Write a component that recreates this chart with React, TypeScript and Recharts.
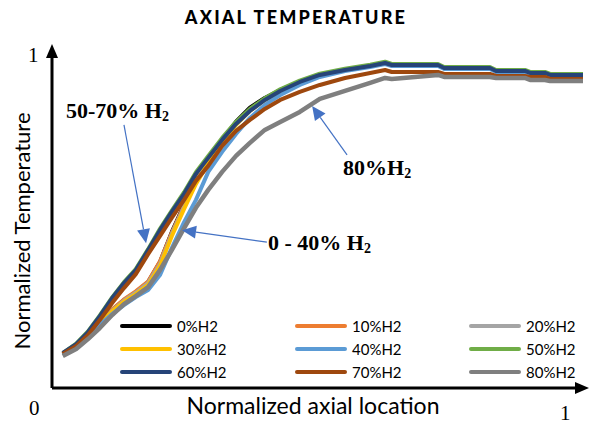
import React from "react";
import { LineChart, Line, XAxis, YAxis, ReferenceLine } from "recharts";

// normalized axial location of each sample
const axialPos = [
  0.021, 0.047, 0.07, 0.093, 0.117, 0.14, 0.163, 0.187, 0.21, 0.233, 0.257,
  0.28, 0.304, 0.331, 0.358, 0.385, 0.414, 0.444, 0.482, 0.521, 0.57, 0.619,
  0.648, 0.661, 0.751, 0.763, 0.852, 0.864, 0.92, 0.93, 0.959, 0.969, 1.033,
];

const h2_0 = [
  0.102, 0.126, 0.159, 0.198, 0.234, 0.264, 0.288, 0.318, 0.378, 0.468, 0.55,
  0.625, 0.685, 0.745, 0.8, 0.842, 0.871, 0.895, 0.919, 0.94, 0.955, 0.967,
  0.976, 0.97, 0.97, 0.961, 0.961, 0.952, 0.952, 0.946, 0.946, 0.94, 0.94,
];
const h2_10 = [
  0.103, 0.127, 0.16, 0.199, 0.236, 0.266, 0.29, 0.32, 0.38, 0.466, 0.548,
  0.622, 0.683, 0.743, 0.794, 0.836, 0.866, 0.893, 0.918, 0.939, 0.954, 0.966,
  0.975, 0.969, 0.969, 0.96, 0.96, 0.951, 0.951, 0.945, 0.945, 0.939, 0.939,
];
const h2_20 = [
  0.102, 0.126, 0.158, 0.197, 0.232, 0.262, 0.286, 0.315, 0.372, 0.462, 0.544,
  0.619, 0.68, 0.741, 0.792, 0.834, 0.866, 0.893, 0.918, 0.939, 0.954, 0.966,
  0.975, 0.969, 0.969, 0.96, 0.96, 0.951, 0.951, 0.945, 0.945, 0.939, 0.939,
];
const h2_30 = [
  0.102, 0.125, 0.157, 0.195, 0.23, 0.259, 0.282, 0.31, 0.366, 0.456, 0.538,
  0.613, 0.676, 0.739, 0.79, 0.832, 0.865, 0.892, 0.919, 0.94, 0.955, 0.967,
  0.976, 0.97, 0.97, 0.961, 0.961, 0.952, 0.952, 0.946, 0.946, 0.94, 0.94,
];
const h2_40 = [
  0.099, 0.123, 0.153, 0.189, 0.222, 0.249, 0.273, 0.294, 0.339, 0.42, 0.498,
  0.565, 0.649, 0.709, 0.763, 0.811, 0.85, 0.88, 0.91, 0.934, 0.952, 0.964,
  0.973, 0.967, 0.967, 0.958, 0.958, 0.949, 0.949, 0.943, 0.943, 0.937, 0.937,
];
const h2_50 = [
  0.105, 0.133, 0.17, 0.218, 0.272, 0.318, 0.357, 0.417, 0.478, 0.533, 0.588,
  0.648, 0.697, 0.751, 0.799, 0.838, 0.87, 0.897, 0.923, 0.944, 0.959, 0.971,
  0.98, 0.973, 0.973, 0.964, 0.964, 0.955, 0.955, 0.949, 0.949, 0.943, 0.943,
];
const h2_60 = [
  0.105, 0.132, 0.168, 0.216, 0.27, 0.315, 0.354, 0.414, 0.474, 0.529, 0.583,
  0.643, 0.691, 0.745, 0.793, 0.832, 0.865, 0.892, 0.919, 0.94, 0.955, 0.967,
  0.976, 0.97, 0.97, 0.961, 0.961, 0.952, 0.952, 0.946, 0.946, 0.94, 0.94,
];
const h2_70 = [
  0.102, 0.126, 0.159, 0.204, 0.255, 0.3, 0.342, 0.402, 0.456, 0.511, 0.565,
  0.622, 0.667, 0.727, 0.772, 0.805, 0.838, 0.865, 0.889, 0.91, 0.931, 0.946,
  0.955, 0.949, 0.949, 0.943, 0.943, 0.937, 0.937, 0.934, 0.934, 0.928, 0.928,
];
const h2_80 = [
  0.096, 0.117, 0.147, 0.18, 0.219, 0.252, 0.276, 0.303, 0.354, 0.414, 0.48,
  0.541, 0.595, 0.649, 0.697, 0.736, 0.775, 0.799, 0.829, 0.868, 0.892, 0.916,
  0.931, 0.928, 0.94, 0.934, 0.934, 0.931, 0.931, 0.925, 0.925, 0.922, 0.922,
];

const seriesNames = ["0%H2", "10%H2", "20%H2", "30%H2", "40%H2", "50%H2", "60%H2", "70%H2", "80%H2"];
const seriesValues = [h2_0, h2_10, h2_20, h2_30, h2_40, h2_50, h2_60, h2_70, h2_80];
const seriesColors = [
  "#000000", "#ED7D31", "#A5A5A5", "#FFC000", "#5B9BD5", "#70AD47", "#264478", "#9E480E", "#7F7F7F",
];

const data = axialPos.map((x, i) => {
  const row: Record<string, number> = { x };
  seriesNames.forEach((n, s) => {
    row[n] = seriesValues[s][i];
  });
  return row;
});

const X_MAX = 1.0447;
const Y_MAX = 1.033;

const makeArrow = (color: string, width: number, headLen: number, headW: number) => (props: any) => {
  const { x1, y1, x2, y2 } = props;
  const ang = Math.atan2(y2 - y1, x2 - x1);
  const bx = x2 - headLen * Math.cos(ang);
  const by = y2 - headLen * Math.sin(ang);
  const px = (headW / 2) * Math.sin(ang);
  const py = (headW / 2) * Math.cos(ang);
  return (
    <g>
      <line x1={x1} y1={y1} x2={bx} y2={by} stroke={color} strokeWidth={width} />
      <polygon points={`${x2},${y2} ${bx + px},${by - py} ${bx - px},${by + py}`} fill={color} />
    </g>
  );
};

const axisArrow = makeArrow("#000", 3, 14, 12);
const noteArrow = makeArrow("#4472C4", 1.2, 14, 13);

const serif = "'Liberation Serif', 'Times New Roman', serif";
const sans = "Lato, 'Open Sans', sans-serif";

const abs = (left: number, top: number, extra: React.CSSProperties = {}): React.CSSProperties => ({
  position: "absolute",
  left,
  top,
  whiteSpace: "nowrap",
  lineHeight: 1,
  ...extra,
});

const noteStyle = { fontFamily: serif, fontWeight: 700, fontSize: 22 };
const subStyle: React.CSSProperties = { fontSize: 14, verticalAlign: "-3px" };

export default function App() {
  return (
    <div style={{ position: "absolute", left: 0, top: 0, width: 592, height: 426, background: "#fff" }}>
      <LineChart width={592} height={426} data={data} margin={{ top: 44, right: 3, bottom: 38, left: 52 }}>
        <XAxis dataKey="x" type="number" domain={[0, X_MAX]} hide />
        <YAxis type="number" domain={[0, Y_MAX]} hide />
        {seriesNames.map((n, s) => (
          <Line
            key={n}
            dataKey={n}
            stroke={seriesColors[s]}
            strokeWidth={s === 8 ? 4.5 : 4}
            dot={false}
            type="linear"
            strokeLinejoin="round"
            isAnimationActive={false}
          />
        ))}
        <ReferenceLine segment={[{ x: 0, y: 0 }, { x: 0, y: Y_MAX }]} ifOverflow="visible" shape={axisArrow} />
        <ReferenceLine segment={[{ x: 0, y: 0 }, { x: X_MAX, y: 0 }]} ifOverflow="visible" shape={axisArrow} />
        <ReferenceLine segment={[{ x: 0.14, y: 0.79 }, { x: 0.183, y: 0.435 }]} ifOverflow="visible" shape={noteArrow} />
        <ReferenceLine segment={[{ x: 0.418, y: 0.438 }, { x: 0.253, y: 0.474 }]} ifOverflow="visible" shape={noteArrow} />
        <ReferenceLine segment={[{ x: 0.574, y: 0.7 }, { x: 0.506, y: 0.847 }]} ifOverflow="visible" shape={noteArrow} />
      </LineChart>

      <div style={abs(0, 8, { width: 592, textAlign: "center", fontFamily: sans, fontWeight: 900, fontSize: 18, letterSpacing: 2.2 })}>
        AXIAL TEMPERATURE
      </div>
      <div
        style={abs(22, 231, {
          fontFamily: sans,
          fontSize: 22,
          transform: "translate(-50%, -50%) rotate(-90deg)",
        })}
      >
        Normalized Temperature
      </div>
      <div style={abs(313, 394, { fontFamily: sans, fontSize: 23, transform: "translateX(-50%)" })}>
        Normalized axial location
      </div>
      <div style={abs(28, 45, { fontFamily: serif, fontSize: 21 })}>1</div>
      <div style={abs(29, 398, { fontFamily: serif, fontSize: 21 })}>0</div>
      <div style={abs(560, 403, { fontFamily: serif, fontSize: 21 })}>1</div>

      <div style={abs(66, 100, noteStyle)}>
        50-70% H<span style={subStyle}>2</span>
      </div>
      <div style={abs(343, 157, noteStyle)}>
        80%H<span style={subStyle}>2</span>
      </div>
      <div style={abs(268, 232, noteStyle)}>
        0 - 40% H<span style={subStyle}>2</span>
      </div>

      {seriesNames.map((n, s) => {
        const col = s % 3;
        const row = Math.floor(s / 3);
        const left = [120, 295, 469][col];
        const top = [326, 349, 372][row];
        return (
          <div key={n} style={abs(left, top - 8, { display: "flex", alignItems: "center", height: 16 })}>
            <span style={{ display: "inline-block", width: 52, height: 4, borderRadius: 2, background: seriesColors[s] }} />
            <span style={{ marginLeft: 5, fontFamily: sans, fontSize: 15, color: "#000" }}>{n}</span>
          </div>
        );
      })}
    </div>
  );
}
